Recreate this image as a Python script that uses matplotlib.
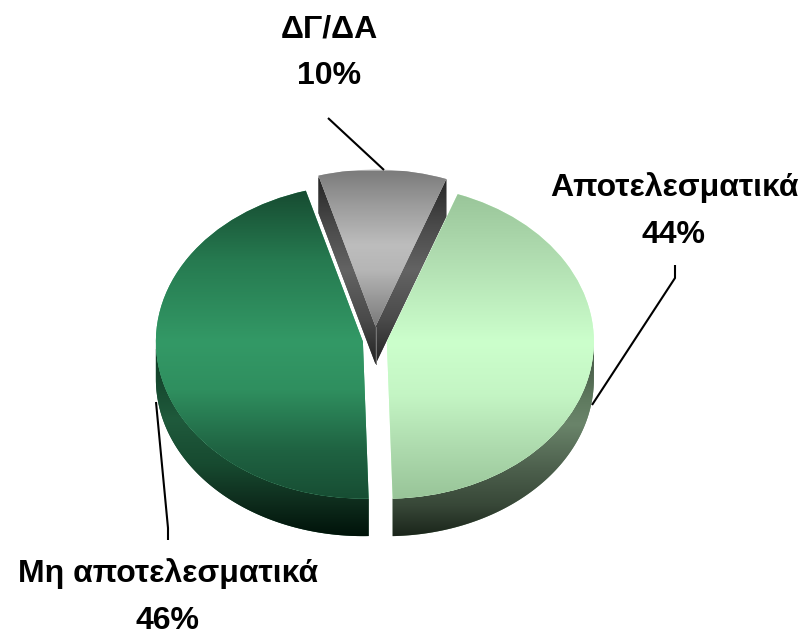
import numpy as np
import matplotlib
matplotlib.use("Agg")
import matplotlib.pyplot as plt
from matplotlib.colors import LinearSegmentedColormap
from matplotlib.patches import Polygon

labels = ["Αποτελεσματικά", "Μη αποτελεσματικά", "ΔΓ/ΔΑ"]
values = [44, 46, 10]
explode = [0.0586, 0.0587, 0.0867]

W, H = 801, 635
CX, CY, RX, RY = 374.9, 340.2, 207.0, 157.0
DEPTH = 37.5 / RY

def ux(px):
    return (px - CX) / RX

def uy(py):
    return (CY - py) / RY

# vertical colour stops per slice: (pixel y, colour)
top_stops = [
    [(190, "#98c498"), (250, "#aedaae"), (342, "#ccffcc"), (395, "#c4f5c4"), (445, "#afdcaf"), (500, "#98c498")],
    [(188, "#164a30"), (260, "#267a50"), (342, "#339966"), (390, "#2f8f5f"), (450, "#1f6342"), (500, "#174d33")],
    [(171, "#7c7c7c"), (205, "#9c9c9c"), (245, "#bdbdbd"), (270, "#b6b6b6"), (327, "#7a7a7a")],
]
rim_stops = [
    [(345, "#3e4e3e"), (400, "#5f7a5f"), (425, "#6a846a"), (470, "#4c5f4c"), (505, "#384838"), (537, "#1a241a")],
    [(350, "#0e3a24"), (420, "#1f5a3c"), (465, "#174a30"), (500, "#0f2e1e"), (537, "#001209")],
]
face_stops = [(178, "#262626"), (225, "#4a4a4a"), (270, "#636363"), (320, "#4a4a4a"), (365, "#222222")]


def gradient(ax, stops, clip):
    ys = [s[0] for s in stops]
    y0, y1 = ys[0], ys[-1]
    cmap = LinearSegmentedColormap.from_list(
        "g", [((y - y0) / (y1 - y0), c) for y, c in stops], N=256)
    im = ax.imshow(np.linspace(0, 1, 256)[:, None], cmap=cmap, aspect="auto",
                   origin="upper", extent=(ux(0), ux(W), uy(y1), uy(y0)),
                   interpolation="bilinear", zorder=clip.get_zorder() + 0.1)
    im.set_clip_path(clip)


fig = plt.figure(figsize=(W / 100, H / 100), dpi=100)
ax = fig.add_axes([0, 0, 1, 1])
wedges, _ = ax.pie(values, explode=explode, startangle=70.0, counterclock=False,
                   colors=["#ccffcc", "#339966", "#b0b0b0"], wedgeprops={"linewidth": 0})
ax.set_aspect("auto")


def arc(w, t1, t2, n=120):
    t = np.radians(np.linspace(t1, t2, n))
    cx, cy = w.center
    return np.column_stack([cx + w.r * np.cos(t), cy + w.r * np.sin(t)])


# outer rims of the two large slices
for i, w in enumerate(wedges[:2]):
    t1, t2 = w.theta1 % 360, w.theta2 % 360
    if t2 < t1:
        t2 += 360
    lo, hi = max(t1, 180), min(t2, 360)
    if i == 0:
        lo, hi = w.theta1 % 360, 360
    pts = arc(w, lo, hi)
    poly = np.vstack([pts, (pts - [0, DEPTH])[::-1]])
    p = Polygon(poly, closed=True, fc=rim_stops[i][2][1], ec="none", zorder=2)
    ax.add_patch(p)
    gradient(ax, rim_stops[i], p)

# cut faces of the small slice
w = wedges[2]
apex = np.array(w.center)
for t in (w.theta1, w.theta2):
    edge = arc(w, t, t, 1)[0]
    poly = np.array([edge, apex, apex - [0, DEPTH], edge - [0, DEPTH]])
    p = Polygon(poly, closed=True, fc="#4a4a4a", ec="none", zorder=2)
    ax.add_patch(p)
    gradient(ax, face_stops, p)
ax.plot([apex[0], apex[0]], [apex[1], apex[1] - DEPTH], color="#777777", lw=0.7, zorder=3)

# top surfaces
for w, stops in zip(wedges, top_stops):
    w.set_zorder(4)
    gradient(ax, stops, w)

# leader lines
leaders = [
    ([675, 675, 592], [265, 278, 405]),
    ([156, 168, 168], [402, 528, 540]),
    ([328, 384], [118, 170]),
]
for xs, ys in leaders:
    ax.plot(ux(np.array(xs)), uy(np.array(ys)), color="black", lw=1.5, zorder=5,
            solid_capstyle="butt", solid_joinstyle="miter")

# labels
label_pos = [(674, 211), (168, 597), (329, 52.5)]
for name, v, (x, y) in zip(labels, values, label_pos):
    ax.text(ux(x), uy(y), f"{name}\n{v}%", ha="center", va="center", multialignment="center",
            family=["Liberation Sans", "DejaVu Sans"], fontweight="bold",
            fontsize=23, linespacing=1.7, color="black", zorder=6)

ax.set_xlim(ux(0), ux(W))
ax.set_ylim(uy(H), uy(0))
ax.set_frame_on(False)
ax.set_xticks([])
ax.set_yticks([])
fig.savefig("out.png", dpi=100, facecolor="white")
